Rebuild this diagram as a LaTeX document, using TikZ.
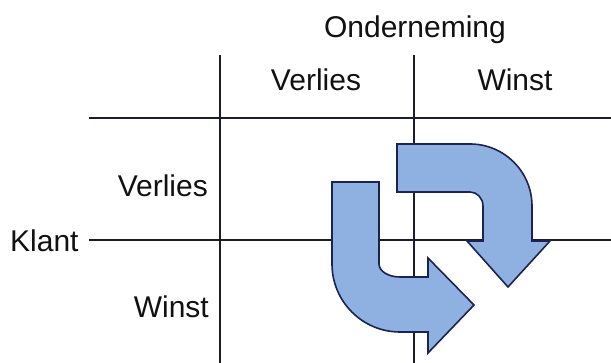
\documentclass[tikz,border=0pt]{standalone}
\usepackage{fontspec}
\setmainfont{Liberation Sans}
\usetikzlibrary{positioning}
\definecolor{ink}{HTML}{111111}
\definecolor{gridline}{HTML}{1A1C2C}
\definecolor{arrowfill}{HTML}{8FB1E2}
\definecolor{arrowedge}{HTML}{1A2352}
\tikzset{
  header/.style={font=\fontsize{30}{32}\selectfont, text=ink, inner sep=0pt},
  gridrule/.style={draw=gridline, line width=1.7pt},
  turnarrow/.style={fill=arrowfill, draw=arrowedge, line width=1.6pt}
}

\begin{document}
\begin{tikzpicture}[x=1pt,y=1pt]
\useasboundingbox (0,0) rectangle (611,363);

% labels
\node[header, anchor=base] (firm) at (415,325) {Onderneming};
\node[header, anchor=base] (colloss) at (316,272) {Verlies};
\node[header, anchor=base] (colwin) at (515,272) {Winst};
\node[header, anchor=base east] (rowloss) at (208,166) {Verlies};
\node[header, anchor=base east] (rowwin) at (209,45) {Winst};
\node[header, anchor=base west] (client) at (10,111) {Klant};

% grid
\coordinate (topL) at (89,245);
\coordinate (topR) at (611,245);
\coordinate (midL) at (89,123);
\coordinate (midR) at (611,123);
\coordinate (colAtop) at (220,308);
\coordinate (colAbot) at (220,0);
\coordinate (colBtop) at (414,308);
\coordinate (colBbot) at (414,0);

\draw[gridrule] (topL) -- (topR);
\draw[gridrule] (midL) -- (midR);
\draw[gridrule] (colAtop) -- (colAbot);
\draw[gridrule] (colBtop) -- (colBbot);

% turning arrows
\draw[turnarrow] (332,181) -- (379,181) -- (379,99)
  arc[start angle=180, end angle=270, x radius=21, y radius=13]
  -- (428,86) -- (428,105) -- (474,58) -- (428,10) -- (428,31) -- (400,31)
  arc[start angle=270, end angle=180, radius=68] -- cycle;
\draw[turnarrow] (397,219) -- (470,219)
  arc[start angle=90, end angle=0, radius=62]
  -- (532,122) -- (550,122) -- (508,76) -- (467,122) -- (483,122) -- (483,157)
  arc[start angle=0, end angle=90, x radius=13, y radius=14]
  -- (397,171) -- cycle;

\end{tikzpicture}
\end{document}
